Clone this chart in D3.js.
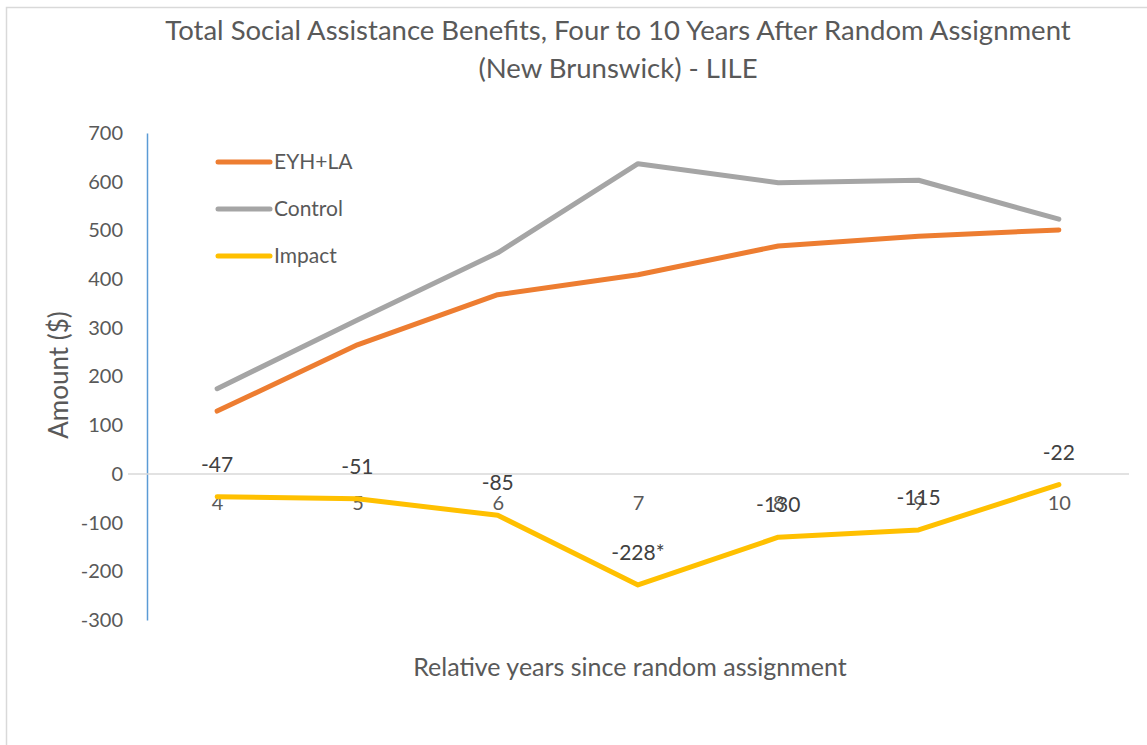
<!DOCTYPE html>
<html><head><meta charset="utf-8">
<script src="https://cdn.jsdelivr.net/npm/d3@7"></script>
<style>body{margin:0;background:#fff;}svg{display:block;font-family:Lato,"Open Sans",sans-serif;}</style>
</head><body><svg id="c" width="1147" height="745"></svg>
<script>
const categories = ["4","5","6","7","8","9","10"];
const eyhla = [129, 265, 368, 409, 468, 488, 501];
const control = [175, 316, 454, 637, 598, 603, 523];
const impact = [-47, -51, -85, -228, -130, -115, -22];
const impactLabels = ["-47","-51","-85","-228*","-130","-115","-22"];
const yTicks = [700,600,500,400,300,200,100,0,-100,-200,-300];
const seriesNames = ["EYH+LA","Control","Impact"];
const colors = ["#ED7D31","#A5A5A5","#FFC000"];

const svg = d3.select("#c");
svg.append("rect").attr("x",6.5).attr("y",7.5).attr("width",1160).attr("height",760)
  .attr("fill","#fff").attr("stroke","#d9d9d9").attr("stroke-width",1.5);

const x = d3.scalePoint().domain(categories).range([147,1129]).padding(0.5);
const y = d3.scaleLinear().domain([-300,700]).range([620,133]);

// title
svg.append("text").attr("x",618).attr("y",40).attr("text-anchor","middle")
  .attr("font-size",27.5).attr("fill","#595959")
  .text("Total Social Assistance Benefits, Four to 10 Years After Random Assignment");
svg.append("text").attr("x",618).attr("y",78).attr("text-anchor","middle")
  .attr("font-size",27.5).attr("fill","#595959")
  .text("(New Brunswick) - LILE");

// y axis
const yAxis = d3.axisLeft(y).tickValues(yTicks).tickSize(0).tickPadding(24).tickFormat(d => String(d));
const gy = svg.append("g").attr("transform","translate(147,0)").call(yAxis);
gy.select(".domain").attr("stroke","#5B9BD5").attr("stroke-width",1.5);
gy.selectAll("text").attr("font-size",20).attr("fill","#595959").attr("font-family","Lato");

// zero line + x axis labels
const xAxis = d3.axisBottom(x).tickSize(0).tickPadding(22);
const gx = svg.append("g").attr("transform",`translate(0,${y(0)})`).call(xAxis);
gx.select(".domain").attr("stroke","#d9d9d9").attr("stroke-width",1.5).attr("d",`M128,0H1129`);
gx.selectAll("text").attr("font-size",20).attr("fill","#595959").attr("font-family","Lato");

// axis titles
svg.append("text").attr("transform","translate(68,375) rotate(-90)").attr("text-anchor","middle")
  .attr("font-size",26).attr("fill","#595959").text("Amount ($)");
svg.append("text").attr("x",630).attr("y",676).attr("text-anchor","middle")
  .attr("font-size",25).attr("fill","#595959").text("Relative years since random assignment");

// lines
const line = d3.line().x((d,i)=>x(categories[i])).y(d=>y(d));
[eyhla, control, impact].forEach((s,k)=>{
  svg.append("path").datum(s).attr("d",line).attr("fill","none")
    .attr("stroke",colors[k]).attr("stroke-width",5).attr("stroke-linejoin","round").attr("stroke-linecap","round");
});

// data labels
svg.selectAll("text.dl").data(impact).enter().append("text").attr("class","dl")
  .attr("x",(d,i)=>x(categories[i])).attr("y",d=>y(d)-25).attr("text-anchor","middle")
  .attr("font-size",21).attr("fill","#404040").text((d,i)=>impactLabels[i]);

// legend
seriesNames.forEach((n,k)=>{
  const ly = 162 + k*47;
  svg.append("line").attr("x1",218).attr("x2",270).attr("y1",ly).attr("y2",ly)
    .attr("stroke",colors[k]).attr("stroke-width",5).attr("stroke-linecap","round");
  svg.append("text").attr("x",274).attr("y",ly+7).attr("font-size",21).attr("fill","#595959").text(n);
});
</script></body></html>
